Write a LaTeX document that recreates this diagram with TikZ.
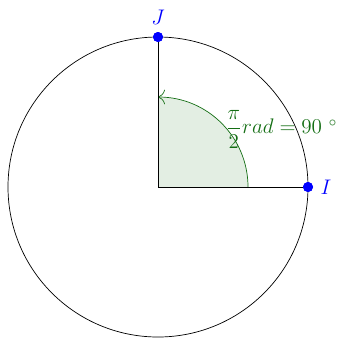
\documentclass[tikz,border=0pt]{standalone}
\usepackage{amsmath,amssymb}
\usepackage{tikz}
\usetikzlibrary{arrows.meta,positioning,calc}
\definecolor{angGreen}{RGB}{20,110,20}

\begin{document}
\begin{tikzpicture}[every node/.style={font=\large},
    ptdot/.style={circle,fill=blue,inner sep=0pt,minimum size=0.2cm}]
    \useasboundingbox (-3.16,-3.06) rectangle (3.72,3.74);
    % Center and axes points
    \coordinate (O) at (0,0);
    \node[ptdot] (I) at (3,0) {};
    \node[ptdot] (J) at (0,3) {};
    % Sector
    \fill[angGreen!12] (O) -- (1.8,0) arc (0:90:1.8) -- cycle;
    \draw[angGreen, -{To[scale=1.6]}] (1.8,0) arc (0:90:1.8)
        node[pos=0.5, right, inner sep=2pt, yshift=-0.12cm, text=angGreen] (lbl) {$\dfrac{\pi}{2} rad = 90 \ {}^{\circ}$};
    % Circle and radii
    \draw (O) circle (3);
    \draw (O) -- (I);
    \draw (O) -- (J);
    % Dots and labels
    \node[ptdot] at (I) {};
    \node[ptdot] at (J) {};
    \node[text=blue, right=0.02cm of I] (Ilbl) {$I$};
    \node[text=blue, above=0.02cm of J] (Jlbl) {$J$};
\end{tikzpicture}
\end{document}
